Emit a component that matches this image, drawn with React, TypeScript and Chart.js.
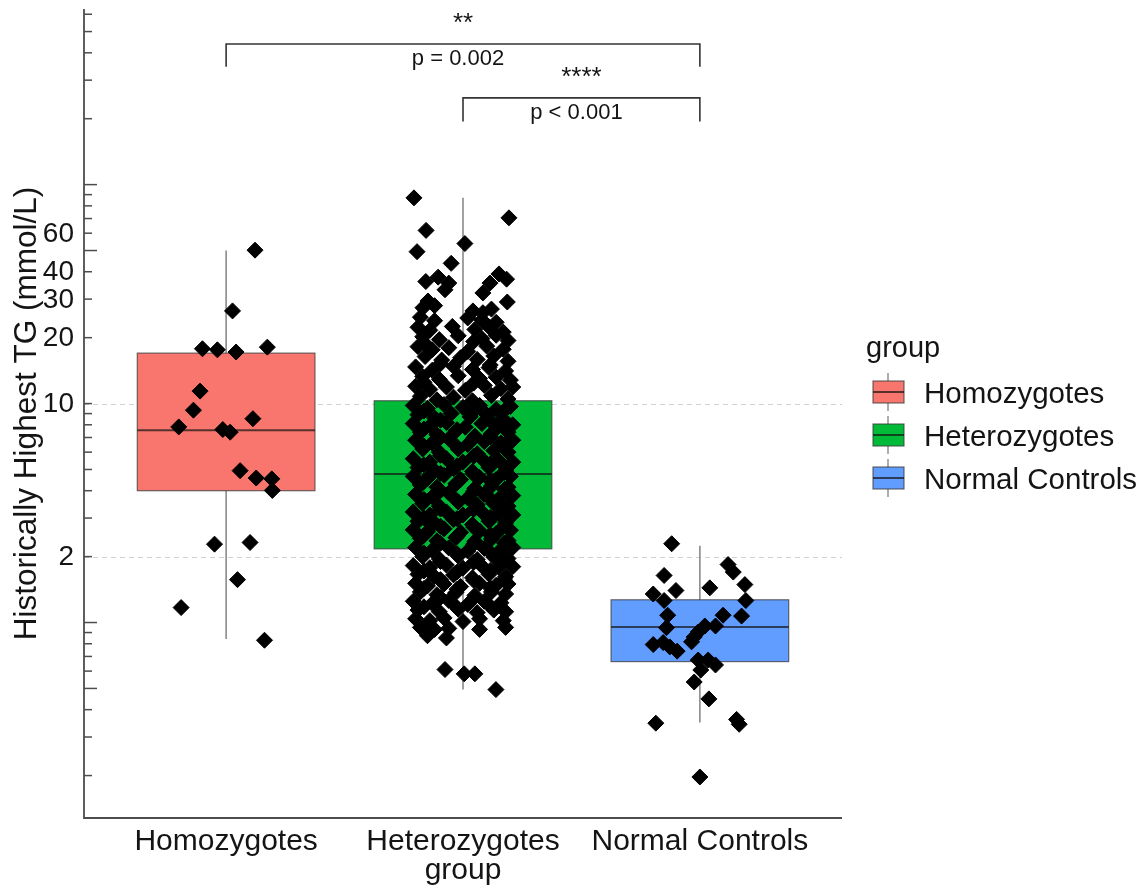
import React, { useEffect, useRef } from "react";
import { Chart, registerables } from "chart.js";

Chart.register(...registerables);

// ---------- data ----------
const categories: (string | string[])[] = ["Homozygotes", ["Heterozygotes", "group"], "Normal Controls"];
const legendTitle = "group";
const legendLabels = ["Homozygotes", "Heterozygotes", "Normal Controls"];
const boxColors = ["#F8766D", "#00BA38", "#619CFF"];

const whiskerLow = [0.84, 0.494, 0.349];
const q1 = [4.0, 2.17, 0.663];
const medians = [7.55, 4.77, 0.953];
const q3 = [17.0, 10.3, 1.27];
const whiskerHigh = [50, 87, 2.24];

// [jitter (category units), value mmol/L]
const homoPoints: [number, number][] = [
  [0.122, 50.2], [0.027, 26.5], [-0.1, 17.8], [-0.037, 17.6], [0.042, 17.2], [0.174, 18.1],
  [-0.11, 11.4], [-0.138, 9.33], [0.113, 8.53], [-0.2, 7.82], [-0.014, 7.61], [0.017, 7.4],
  [0.059, 4.94], [0.127, 4.57], [0.193, 4.53], [0.195, 4.01], [-0.049, 2.28], [0.101, 2.32],
  [0.048, 1.57], [-0.19, 1.17], [0.162, 0.83],
];

const heteroPoints: [number, number][] = [
  [-0.207, 87], [0.194, 70.5], [-0.156, 61.8], [0.008, 53.8], [-0.194, 49.4], [-0.05, 43.7],
  [-0.105, 37.8], [-0.157, 36.1], [-0.06, 35.5], [-0.076, 33.1], [0.152, 39.1], [0.184, 37.0],
  [0.114, 35.5], [0.084, 32.0], [0.187, 29.1], [-0.148, 29.4], [-0.169, 27.4], [0.042, 26.5],
  [0.084, 26.0], [-0.12, 28.0], [0.12, 27.0],
  [-0.18, 24.8], [-0.12, 23.9], [0.02, 24.6], [0.08, 24.1], [0.14, 23.5],
  [-0.19, 22.3], [-0.14, 21.6], [-0.045, 22.5], [0.05, 21.8], [0.11, 22.4], [0.17, 21.2],
  [-0.17, 20.2], [-0.1, 19.6], [-0.02, 20.4], [0.08, 19.8], [0.14, 20.5], [0.19, 19.4],
  [-0.19, 18.2], [-0.13, 17.6], [-0.06, 18.0], [0.02, 17.3], [0.1, 18.3], [0.17, 17.7],
  [-0.16, 16.4], [-0.09, 15.8], [-0.01, 16.2], [0.06, 15.9], [0.13, 16.5], [0.19, 15.6],
  [-0.2, 14.7], [-0.13, 14.2], [-0.04, 14.8], [0.04, 14.3], [0.11, 14.6], [0.18, 14.1],
  [-0.17, 13.3], [-0.1, 12.9], [-0.02, 13.4], [0.07, 13.0], [0.14, 13.2], [0.2, 12.8],
  [-0.2, 12.0], [-0.14, 11.6], [-0.07, 11.9], [0.01, 11.5], [0.09, 12.1], [0.16, 11.7], [0.21, 11.9],
  [-0.18, 10.8], [-0.11, 10.4], [-0.04, 10.7], [0.04, 10.3], [0.12, 10.9], [0.19, 10.5],
  [-0.21, 9.8], [-0.15, 9.5], [-0.08, 9.9], [0.0, 9.6], [0.07, 9.8], [0.14, 9.4], [0.2, 9.7],
  [-0.19, 8.9], [-0.12, 8.6], [-0.05, 9.0], [0.03, 8.7], [0.1, 8.9], [0.17, 8.5],
  [-0.21, 8.1], [-0.14, 7.9], [-0.07, 8.2], [0.01, 7.8], [0.08, 8.1], [0.15, 7.9], [0.21, 8.0],
  [-0.18, 7.4], [-0.11, 7.2], [-0.03, 7.5], [0.05, 7.1], [0.12, 7.3], [0.19, 7.4],
  [-0.2, 6.8], [-0.13, 6.6], [-0.06, 6.9], [0.02, 6.5], [0.09, 6.7], [0.16, 6.6], [0.21, 6.8],
  [-0.17, 6.2], [-0.1, 6.0], [-0.02, 6.2], [0.06, 5.9], [0.13, 6.1], [0.19, 6.0],
  [-0.21, 5.6], [-0.14, 5.4], [-0.07, 5.6], [0.0, 5.4], [0.08, 5.6], [0.15, 5.5], [0.21, 5.4],
  [-0.19, 5.1], [-0.12, 4.95], [-0.04, 5.05], [0.04, 4.9], [0.11, 5.1], [0.18, 4.95],
  [-0.21, 4.65], [-0.15, 4.55], [-0.08, 4.7], [-0.01, 4.5], [0.07, 4.6], [0.14, 4.5], [0.2, 4.65],
  [-0.18, 4.25], [-0.11, 4.15], [-0.03, 4.3], [0.05, 4.1], [0.12, 4.2], [0.19, 4.15],
  [-0.2, 3.85], [-0.13, 3.75], [-0.06, 3.9], [0.02, 3.7], [0.09, 3.85], [0.16, 3.75], [0.21, 3.8],
  [-0.17, 3.5], [-0.1, 3.4], [-0.02, 3.55], [0.06, 3.45], [0.13, 3.5], [0.19, 3.4],
  [-0.21, 3.2], [-0.14, 3.1], [-0.07, 3.2], [0.0, 3.1], [0.08, 3.2], [0.15, 3.15], [0.21, 3.1],
  [-0.19, 2.9], [-0.12, 2.85], [-0.04, 2.95], [0.04, 2.8], [0.11, 2.9], [0.18, 2.85],
  [-0.21, 2.65], [-0.15, 2.6], [-0.08, 2.68], [-0.01, 2.58], [0.07, 2.62], [0.14, 2.55], [0.2, 2.64],
  [-0.18, 2.42], [-0.11, 2.36], [-0.03, 2.44], [0.05, 2.35], [0.12, 2.41], [0.19, 2.37],
  [-0.2, 2.2], [-0.13, 2.14], [-0.06, 2.19], [0.02, 2.12], [0.09, 2.18], [0.16, 2.15], [0.21, 2.2],
  [-0.17, 2.0], [-0.1, 1.95], [-0.02, 2.01], [0.06, 1.94], [0.13, 1.99], [0.19, 1.96],
  [-0.21, 1.82], [-0.14, 1.78], [-0.07, 1.83], [0.0, 1.77], [0.08, 1.81], [0.15, 1.79], [0.21, 1.8],
  [-0.19, 1.66], [-0.12, 1.62], [-0.04, 1.65], [0.04, 1.6], [0.11, 1.66], [0.18, 1.62],
  [-0.2, 1.51], [-0.15, 1.47], [-0.08, 1.5], [-0.01, 1.46], [0.07, 1.51], [0.14, 1.48], [0.19, 1.5],
  [-0.18, 1.38], [-0.11, 1.34], [-0.03, 1.37], [0.05, 1.33], [0.12, 1.38], [0.18, 1.35],
  [-0.21, 1.25], [-0.13, 1.22], [-0.06, 1.26], [0.02, 1.21], [0.09, 1.25], [0.16, 1.23],
  [-0.19, 1.14], [-0.1, 1.12], [-0.02, 1.15], [0.06, 1.11], [0.13, 1.14], [0.18, 1.12],
  [-0.2, 1.04], [-0.14, 1.02], [-0.08, 1.05], [0.0, 1.01], [0.07, 1.04], [0.17, 1.02],
  [-0.18, 0.95], [-0.12, 0.93], [-0.06, 0.94], [0.07, 0.93], [0.18, 0.95],
  [-0.15, 0.87], [-0.07, 0.85],
  [-0.076, 0.61], [0.005, 0.583], [0.05, 0.583], [0.139, 0.494],
  // denser core
  [-0.165, 19.0], [0.045, 19.2], [-0.095, 15.2], [0.115, 15.0], [-0.165, 12.5], [0.045, 12.4],
  [-0.165, 9.25], [0.045, 9.2], [0.175, 9.3], [-0.095, 8.4], [0.115, 8.35],
  [-0.165, 7.65], [-0.025, 7.6], [0.175, 7.7], [-0.095, 7.0], [0.045, 6.95], [0.115, 7.05],
  [-0.165, 6.4], [-0.025, 6.35], [0.175, 6.45], [-0.095, 5.8], [0.045, 5.75],
  [-0.165, 5.25], [-0.025, 5.2], [0.115, 5.3], [-0.095, 4.8], [0.045, 4.75], [0.175, 4.85],
  [-0.165, 4.4], [-0.025, 4.35], [0.115, 4.45], [-0.095, 4.0], [0.045, 3.98], [0.175, 4.05],
  [-0.165, 3.65], [-0.025, 3.6], [0.115, 3.68], [-0.095, 3.3], [0.045, 3.28], [0.175, 3.33],
  [-0.165, 3.0], [-0.025, 2.98], [0.115, 3.02], [-0.095, 2.75], [0.045, 2.73], [0.175, 2.77],
  [-0.165, 2.5], [-0.025, 2.48], [0.115, 2.52], [-0.095, 2.3], [0.045, 2.28], [0.175, 2.31],
  [-0.165, 2.08], [-0.025, 2.06], [0.115, 2.09], [-0.095, 1.9], [0.045, 1.88], [0.175, 1.91],
  [-0.165, 1.72], [-0.025, 1.7], [0.115, 1.73], [-0.095, 1.57], [0.045, 1.56], [0.175, 1.58],
  [-0.165, 1.43], [-0.025, 1.42], [0.115, 1.44], [-0.095, 1.3], [0.045, 1.29],
  [-0.165, 1.18], [-0.025, 1.17], [0.115, 1.19],
];

const normalPoints: [number, number][] = [
  [-0.119, 2.29], [-0.151, 1.64], [0.119, 1.84], [0.141, 1.7], [0.19, 1.49], [-0.101, 1.4],
  [0.042, 1.44], [-0.197, 1.35], [-0.151, 1.26], [0.194, 1.26], [0.176, 1.07], [-0.136, 1.08],
  [0.098, 1.08], [-0.141, 0.947], [0.066, 0.964], [0.021, 0.964], [-0.007, 0.905], [-0.024, 0.859],
  [-0.035, 0.816], [-0.197, 0.793], [-0.155, 0.81], [-0.127, 0.774], [-0.096, 0.74], [-0.007, 0.674],
  [0.035, 0.674], [0.066, 0.64], [0.004, 0.607], [-0.024, 0.535], [0.038, 0.448], [-0.186, 0.347],
  [0.155, 0.361], [0.166, 0.343], [0.0, 0.197],
];

const groupPoints = [homoPoints, heteroPoints, normalPoints];

const yLabelTicks = [2, 10, 20, 30, 40, 60];
const yLongTicks = [0.5, 1, 50, 100];
const yShortTicks = [0.2, 0.3, 0.4, 0.6, 0.7, 0.8, 0.9, 2, 3, 4, 5, 6, 7, 8, 9, 10, 20, 30, 40, 60, 70, 80, 90, 200, 300, 400, 500, 600];
const gridValues = [2, 10];
const yMin = 0.128;
const yMax = 634;
const yTitle = "Historically Highest TG (mmol/L)";

// significance brackets: from/to category index, bracket top value, leg bottom value
const comparisons = [
  { from: 0, to: 2, top: 439, leg: 345, stars: "**", p: "p = 0.002" },
  { from: 1, to: 2, top: 249, leg: 194, stars: "****", p: "p < 0.001" },
];

// ---------- styles ----------
const FONT = "'Liberation Sans', Arial, Helvetica, sans-serif";
const TEXT = "#141414";
const AXIS = "#4d4d4d";
const BOX_W = 0.75;

function txt(ctx: CanvasRenderingContext2D, s: string, x: number, y: number, size: number, align: CanvasTextAlign, base: CanvasTextBaseline = "alphabetic") {
  ctx.font = `${size}px ${FONT}`;
  ctx.fillStyle = TEXT;
  ctx.textAlign = align;
  ctx.textBaseline = base;
  ctx.fillText(s, x, y);
}

const boxPlugin = {
  id: "boxes",
  beforeDatasetsDraw(chart: any) {
    const { ctx, chartArea, scales } = chart;
    const x = scales.x;
    const y = scales.y;
    ctx.save();
    ctx.strokeStyle = "#d0d0d0";
    ctx.lineWidth = 1;
    ctx.setLineDash([5, 4]);
    gridValues.forEach((v) => {
      const py = Math.round(y.getPixelForValue(v)) + 0.5;
      ctx.beginPath();
      ctx.moveTo(chartArea.left, py);
      ctx.lineTo(chartArea.right, py);
      ctx.stroke();
    });
    ctx.setLineDash([]);
    for (let i = 0; i < categories.length; i++) {
      const cx = x.getPixelForValue(i + 1);
      const half = x.getPixelForValue(i + 1 + BOX_W / 2) - cx;
      ctx.strokeStyle = "#8a8a8a";
      ctx.lineWidth = 1.6;
      ctx.beginPath();
      ctx.moveTo(cx, y.getPixelForValue(whiskerLow[i]));
      ctx.lineTo(cx, y.getPixelForValue(whiskerHigh[i]));
      ctx.stroke();
      const top = y.getPixelForValue(q3[i]);
      const bot = y.getPixelForValue(q1[i]);
      ctx.fillStyle = boxColors[i];
      ctx.fillRect(cx - half, top, 2 * half, bot - top);
      ctx.strokeStyle = "rgba(60,60,60,0.75)";
      ctx.lineWidth = 1.2;
      ctx.strokeRect(cx - half, top, 2 * half, bot - top);
      const my = y.getPixelForValue(medians[i]);
      ctx.strokeStyle = "rgba(20,20,20,0.7)";
      ctx.lineWidth = 2;
      ctx.beginPath();
      ctx.moveTo(cx - half, my);
      ctx.lineTo(cx + half, my);
      ctx.stroke();
    }
    ctx.restore();
  },
  afterDraw(chart: any) {
    const { ctx, chartArea, scales } = chart;
    const x = scales.x;
    const y = scales.y;
    ctx.save();
    ctx.strokeStyle = AXIS;
    ctx.lineWidth = 1.8;
    ctx.beginPath();
    ctx.moveTo(chartArea.left, chartArea.top);
    ctx.lineTo(chartArea.left, chartArea.bottom);
    ctx.lineTo(chartArea.right, chartArea.bottom);
    ctx.stroke();
    ctx.lineWidth = 1.5;
    const tick = (v: number, len: number) => {
      const py = y.getPixelForValue(v);
      ctx.beginPath();
      ctx.moveTo(chartArea.left, py);
      ctx.lineTo(chartArea.left + len, py);
      ctx.stroke();
    };
    yShortTicks.forEach((v) => tick(v, 8));
    yLongTicks.forEach((v) => tick(v, 13));
    yLabelTicks.forEach((v) => {
      txt(ctx, String(v), chartArea.left - 10, y.getPixelForValue(v) + 1, 28, "right", "middle");
    });
    categories.forEach((c, i) => {
      const lines = Array.isArray(c) ? c : [c];
      const cx = x.getPixelForValue(i + 1);
      lines.forEach((l, k) => txt(ctx, l, cx, chartArea.bottom + 32 + k * 29, 30, "center"));
    });
    ctx.save();
    ctx.translate(36, (chartArea.top + chartArea.bottom) / 2);
    ctx.rotate(-Math.PI / 2);
    txt(ctx, yTitle, 0, 0, 31.5, "center");
    ctx.restore();
    ctx.strokeStyle = "#333";
    ctx.lineWidth = 1.6;
    comparisons.forEach((c) => {
      const x1 = x.getPixelForValue(c.from + 1);
      const x2 = x.getPixelForValue(c.to + 1);
      const yt = y.getPixelForValue(c.top);
      const yl = y.getPixelForValue(c.leg);
      ctx.beginPath();
      ctx.moveTo(x1, yl);
      ctx.lineTo(x1, yt);
      ctx.lineTo(x2, yt);
      ctx.lineTo(x2, yl);
      ctx.stroke();
      const mid = (x1 + x2) / 2;
      txt(ctx, c.stars, mid, yt - 13, 26, "center");
      txt(ctx, c.p, mid - 5, yt + 21, 22, "center");
    });
    const lx = chartArea.right + 24;
    txt(ctx, legendTitle, lx, 357, 29, "left");
    legendLabels.forEach((l, i) => {
      const cy = 392 + i * 43;
      const gx = lx + 7;
      ctx.strokeStyle = "#8a8a8a";
      ctx.lineWidth = 1.4;
      ctx.beginPath();
      ctx.moveTo(gx + 15, cy - 19);
      ctx.lineTo(gx + 15, cy + 19);
      ctx.stroke();
      ctx.fillStyle = boxColors[i];
      ctx.fillRect(gx, cy - 11, 31, 22);
      ctx.strokeStyle = "rgba(60,60,60,0.75)";
      ctx.lineWidth = 1.2;
      ctx.strokeRect(gx, cy - 11, 31, 22);
      ctx.strokeStyle = "rgba(20,20,20,0.7)";
      ctx.lineWidth = 2;
      ctx.beginPath();
      ctx.moveTo(gx, cy);
      ctx.lineTo(gx + 31, cy);
      ctx.stroke();
      txt(ctx, l, lx + 58, cy + 10.5, 29.5, "left");
    });
    ctx.restore();
  },
};

export default function App() {
  const ref = useRef<HTMLCanvasElement | null>(null);
  useEffect(() => {
    if (!ref.current) return;
    const chart = new Chart(ref.current, {
      type: "scatter",
      data: {
        datasets: groupPoints.map((pts, i) => ({
          label: legendLabels[i],
          data: pts.map(([j, v]) => ({ x: i + 1 + j, y: v })),
          pointStyle: "rectRot",
          pointRadius: 8,
          backgroundColor: "#000",
          borderColor: "#000",
          borderWidth: 1,
        })),
      },
      options: {
        responsive: false,
        animation: false,
        devicePixelRatio: 1,
        events: [],
        layout: { padding: { top: 7, right: 306, left: 0, bottom: 0 } },
        plugins: { legend: { display: false }, tooltip: { enabled: false } },
        scales: {
          x: {
            type: "linear",
            min: 0.4,
            max: 3.6,
            grid: { display: false },
            border: { display: false },
            ticks: { display: false },
            afterFit: (s: any) => { s.height = 72; },
          },
          y: {
            type: "logarithmic",
            min: yMin,
            max: yMax,
            bounds: "data",
            grid: { display: false },
            border: { display: false },
            ticks: { display: false },
            afterFit: (s: any) => { s.width = 84; },
          },
        },
      },
      plugins: [boxPlugin],
    } as any);
    return () => chart.destroy();
  }, []);
  return (
    <div style={{ position: "absolute", left: 0, top: 0, width: 1148, height: 890, background: "#fff" }}>
      <canvas ref={ref} width={1148} height={890} style={{ display: "block" }} />
    </div>
  );
}
